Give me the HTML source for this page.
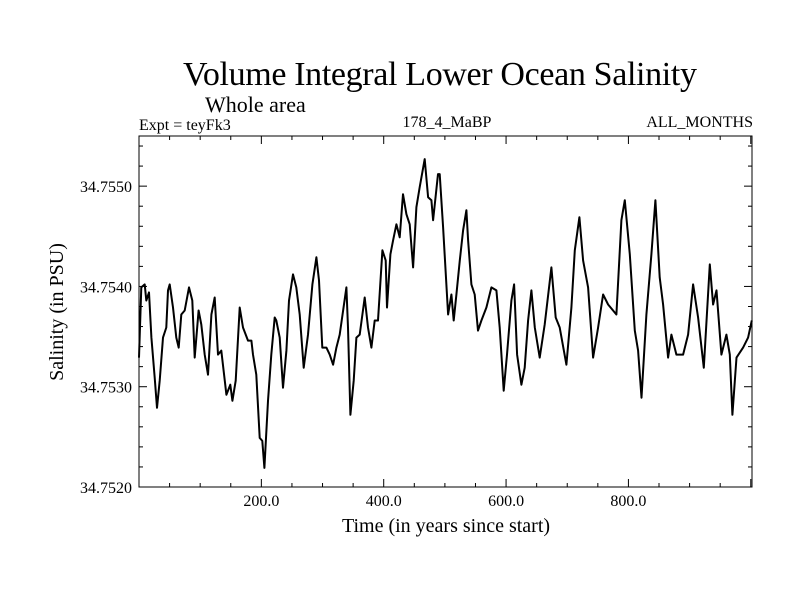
<!DOCTYPE html>
<html><head><meta charset="utf-8"><style>
body{margin:0;background:#fff;}
svg{display:block;font-family:"Liberation Serif",serif;}
</style></head><body>
<svg id="chart" width="800" height="600" viewBox="0 0 800 600">
<rect width="800" height="600" fill="#fff"/>
<text x="440" y="85" font-size="34" text-anchor="middle" textLength="514">Volume Integral Lower Ocean Salinity</text>
<text x="205" y="112" font-size="22">Whole area</text>
<text x="139" y="130" font-size="16">Expt = teyFk3</text>
<text x="447" y="127" font-size="16" text-anchor="middle">178_4_MaBP</text>
<text x="753" y="127" font-size="16" text-anchor="end">ALL_MONTHS</text>
<g id="axes"></g>
<path id="line" fill="none" stroke="#000" stroke-width="2" stroke-linejoin="round"/>
<text x="446" y="532" font-size="20" text-anchor="middle">Time (in years since start)</text>
<text transform="translate(63,312) rotate(-90)" font-size="20" text-anchor="middle">Salinity (in PSU)</text>
</svg>
<script>
const years=[0,3.8,9.3,12,16.3,20.2,25.6,29.4,33.8,39.2,44.7,47.4,50.1,55.6,61,64.9,69.2,74.7,81.7,87.2,91,97.5,101.9,107.4,112.8,118.3,123.7,129.2,134.6,142.8,149.3,152.6,158,164.6,170,178.2,183.7,186.4,191.8,197.3,201.6,204.9,210.9,216.3,221.8,224.5,230,235.4,240.9,245.2,251.8,257.2,262.7,269.2,276.3,283.4,289.9,294.3,299.7,306.3,311.7,317.2,322.6,328.1,339,341.7,345.5,351,355.3,360.8,368.9,374.4,379.8,385.3,390.7,397.8,403.3,405.4,410.9,415.3,420.7,426.2,431.6,437.1,442.5,448,453.4,458.9,467,472.5,477.9,480.7,488.8,491.6,497,505.2,510.6,514.4,518.8,524.3,529.7,535.1,537.9,543.3,548.8,554.2,559.7,567.8,576,584.2,589.6,596.2,601.6,608.7,613.1,618,625.1,630.5,636,641.4,646.9,655,663.2,674.1,681.2,687.7,698.6,706.8,712.3,719.9,725.9,734.1,742.2,750.4,758.6,766.8,780.4,788.6,794,802.2,810.4,815.8,821.3,829.4,837.6,844.1,851.2,856.7,864.9,870.3,878.5,889.4,897.5,905.7,913.9,923.2,933,938.4,943.9,952,960.2,965.7,970,976.6,987.5,995.6,1001.6];
const salinity=[34.75329,34.75399,34.75402,34.75386,34.75394,34.75349,34.75309,34.75279,34.75306,34.75349,34.75359,34.75396,34.75402,34.75379,34.75349,34.75339,34.75372,34.75376,34.75399,34.75386,34.75329,34.75376,34.75362,34.75332,34.75312,34.75372,34.75389,34.75332,34.75336,34.75292,34.75302,34.75286,34.75306,34.75379,34.75359,34.75346,34.75346,34.75332,34.75312,34.75249,34.75246,34.75219,34.75286,34.75332,34.75369,34.75366,34.75349,34.75299,34.75336,34.75386,34.75412,34.75399,34.75372,34.75319,34.75352,34.75402,34.75429,34.75406,34.75339,34.75339,34.75332,34.75322,34.75339,34.75352,34.75399,34.75359,34.75272,34.75306,34.75349,34.75352,34.75389,34.75359,34.75339,34.75366,34.75366,34.75436,34.75426,34.75379,34.75432,34.75446,34.75462,34.75449,34.75492,34.75472,34.75462,34.75419,34.75479,34.75499,34.75527,34.75489,34.75486,34.75466,34.75512,34.75512,34.75459,34.75372,34.75392,34.75366,34.75392,34.75426,34.75456,34.75476,34.75446,34.75402,34.75392,34.75356,34.75366,34.75379,34.75399,34.75396,34.75359,34.75296,34.75332,34.75386,34.75402,34.75332,34.75302,34.75319,34.75366,34.75396,34.75359,34.75329,34.75362,34.75419,34.75369,34.75359,34.75322,34.75379,34.75436,34.75469,34.75426,34.75399,34.75329,34.75359,34.75392,34.75382,34.75372,34.75466,34.75486,34.75432,34.75356,34.75336,34.75289,34.75372,34.75432,34.75486,34.75409,34.75382,34.75329,34.75352,34.75332,34.75332,34.75352,34.75402,34.75369,34.75319,34.75422,34.75382,34.75396,34.75332,34.75352,34.75332,34.75272,34.75329,34.75339,34.75349,34.75366];
const xTickLabels=["200.0","400.0","600.0","800.0"];
const xTickValues=[200,400,600,800];
const yTickLabels=["34.7520","34.7530","34.7540","34.7550"];
const yTickValues=[34.752,34.753,34.754,34.755];

const L=139,R=752,T=136,B=487;
const XMIN=0,XMAX=1002,YMIN=34.752,YMAX=34.7555;
const xs=v=>L+(v-XMIN)/(XMAX-XMIN)*(R-L);
const ys=v=>B-(v-YMIN)/(YMAX-YMIN)*(B-T);
const NS="http://www.w3.org/2000/svg";
const ax=document.getElementById('axes');
function mk(tag,attrs){const e=document.createElementNS(NS,tag);for(const k in attrs)e.setAttribute(k,attrs[k]);ax.appendChild(e);return e;}
const frame=mk('rect',{x:L,y:T,width:R-L,height:B-T,fill:'none',stroke:'#000','stroke-width':1});


for(let v=50;v<XMAX;v+=50){
  const major=v%200===0,len=major?8:4,x=xs(v);
  const t1=mk('line',{x1:x,x2:x,y1:B,y2:B-len,stroke:'#000'});
  
  
  const t2=mk('line',{x1:x,x2:x,y1:T,y2:T+len,stroke:'#000'});
  
  
}
xTickValues.forEach((v,i)=>{
  const t=mk('text',{x:xs(v),y:B+19,'font-size':16,'text-anchor':'middle'});
  t.textContent=xTickLabels[i];
  
  
});
for(let k=0;k<=17;k++){
  const v=YMIN+k*0.0002;
  if(v>YMAX+1e-9)break;
  const major=k%5===0,len=major?8:4,y=ys(v);
  const t1=mk('line',{x1:L,x2:L+len,y1:y,y2:y,stroke:'#000'});
  
  
  const t2=mk('line',{x1:R,x2:R-len,y1:y,y2:y,stroke:'#000'});
  
  
}
yTickValues.forEach((v,i)=>{
  const t=mk('text',{x:L-7,y:ys(v)+6,'font-size':16,'text-anchor':'end'});
  t.textContent=yTickLabels[i];
  
  
});
let d='';
years.forEach((yr,i)=>{d+=(i?'L':'M')+xs(yr).toFixed(1)+','+ys(salinity[i]).toFixed(1);});
document.getElementById('line').setAttribute('d',d);
</script>
</body></html>
